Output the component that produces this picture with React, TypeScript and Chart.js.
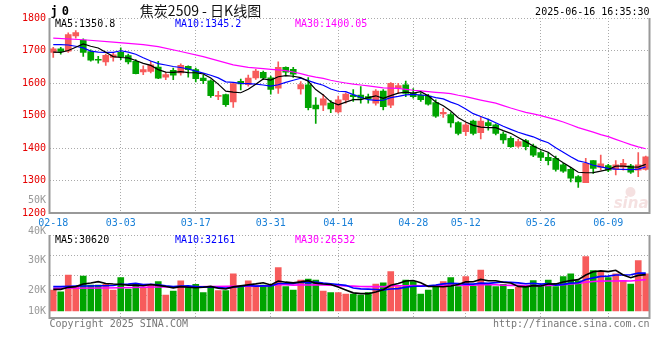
import React, { useEffect, useRef } from 'react';
import { Chart, registerables } from 'chart.js';
Chart.register(...registerables);

// ---------- data ----------
const dates = [
  '02-18','02-19','02-20','02-21','02-24','02-25','02-26','02-27','02-28',
  '03-03','03-04','03-05','03-06','03-07','03-10','03-11','03-12','03-13','03-14',
  '03-17','03-18','03-19','03-20','03-21','03-24','03-25','03-26','03-27','03-28','03-31',
  '04-01','04-02','04-03','04-07','04-08','04-09','04-10','04-11','04-14','04-15','04-16','04-17','04-18',
  '04-21','04-22','04-23','04-24','04-25','04-28','04-29','04-30',
  '05-06','05-07','05-08','05-09','05-12','05-13','05-14','05-15','05-16',
  '05-19','05-20','05-21','05-22','05-23','05-26','05-27','05-28','05-29','05-30',
  '06-03','06-04','06-05','06-06','06-09','06-10','06-11','06-12','06-13','06-16',
];
const tickDates = ['02-18','03-03','03-17','03-31','04-14','04-28','05-12','05-26','06-09'];

const openP = [
  1694,1705,1698,1745,1732,1697,1671,1665,1679,1694,
  1684,1667,1634,1636,1649,1618,1639,1631,1651,1641,
  1615,1607,1559,1564,1542,1605,1595,1616,1633,1616,
  1584,1648,1642,1582,1594,1532,1532,1538,1511,1548,
  1563,1563,1558,1538,1575,1532,1586,1594,1568,1563,
  1560,1540,1505,1503,1478,1450,1483,1447,1478,1471,
  1443,1430,1406,1423,1406,1386,1371,1368,1348,1334,
  1312,1293,1361,1340,1346,1334,1341,1345,1332,1334,
];
const highP = [
  1710,1710,1754,1761,1736,1702,1682,1689,1694,1708,
  1689,1672,1653,1667,1667,1633,1646,1659,1653,1646,
  1624,1610,1574,1566,1600,1612,1624,1642,1637,1621,
  1665,1650,1648,1604,1617,1555,1565,1546,1560,1570,
  1580,1589,1566,1580,1580,1601,1599,1606,1583,1570,
  1565,1548,1522,1509,1481,1478,1486,1496,1489,1474,
  1450,1435,1427,1427,1412,1391,1386,1375,1353,1340,
  1315,1368,1361,1378,1350,1361,1365,1350,1386,1375,
];
const lowP = [
  1679,1689,1694,1738,1682,1667,1661,1654,1667,1672,
  1659,1628,1626,1631,1613,1610,1610,1624,1618,1603,
  1598,1556,1549,1528,1525,1579,1590,1611,1611,1566,
  1568,1622,1617,1566,1517,1476,1515,1509,1507,1538,
  1543,1538,1538,1532,1517,1524,1568,1558,1553,1543,
  1532,1494,1494,1464,1440,1438,1440,1428,1455,1440,
  1414,1402,1402,1394,1373,1361,1348,1329,1325,1296,
  1279,1293,1322,1332,1327,1317,1332,1322,1312,1332,
];
const closeP = [
  1705,1697,1749,1755,1694,1670,1670,1685,1687,1680,
  1665,1629,1641,1656,1615,1626,1624,1654,1641,1613,
  1607,1561,1561,1533,1598,1597,1615,1637,1616,1580,
  1648,1633,1627,1595,1524,1520,1551,1520,1548,1566,
  1558,1553,1551,1575,1527,1599,1592,1568,1558,1549,
  1535,1498,1510,1477,1445,1471,1445,1483,1469,1445,
  1425,1404,1420,1404,1378,1371,1361,1334,1329,1307,
  1296,1353,1337,1351,1332,1348,1353,1326,1348,1373,
];
const volume = [
  17700,16300,30400,20000,29600,22000,22000,22500,17700,28200,
  18600,22500,20000,22500,24800,13500,16900,25400,20000,22500,
  15500,20600,17200,17200,31300,20000,25400,20600,22000,22000,
  36600,20600,17700,26200,27000,26200,16900,15500,15500,14400,
  14400,13500,15500,22800,23900,33200,20600,26200,24800,14400,
  17700,20600,24800,28200,20600,29000,21100,34600,22500,20600,
  22500,18300,20000,20600,25600,21400,26200,20600,29000,31300,
  25400,45900,34100,32700,28200,31300,25600,22800,42500,31300,
];

// moving-average values before enough bars exist
const priceMa5Head = [1695, 1694, 1700, 1710];
const priceMa10Head = [1718, 1718, 1717, 1713, 1708, 1698, 1695, 1694, 1694];
const priceMa30Head = [1738,null,null,null,1733,null,null,null,1726,null,null,null,1718,null,1712,null,null,1697,null,null,1681,null,null,null,1656,null,1648,null,1644];
const volMa5Head = [18300, 18300, 20000, 20600];
const volMa10Head = [20600, 20600, 20800, 21000, 21100, 21100, 21400, 21400, 21600];
const volMa30Head = [19200,null,null,null,null,null,null,19500,null,null,null,null,null,null,20300,null,null,null,null,null,null,20600,null,null,null,null,null,null,21200];

const priceLegend = ['MA5:1350.8', 'MA10:1345.2', 'MA30:1400.05'];
const volLegend = ['MA5:30620', 'MA10:32161', 'MA30:26532'];
const volAxisLabels = ['50K', '40K', '30K', '20K', '10K'];
const titleText = '焦炭2509 - 日K线图';
const codeText = 'j0';
const timeText = '2025-06-16 16:35:30';
const copyrightText = 'Copyright 2025 SINA.COM';
const urlText = 'http://finance.sina.com.cn';

// ---------- helpers ----------
function movingAvg(values: number[], period: number, head: (number | null)[]) {
  return values.map((_, i) => {
    if (i < period - 1) return head[i] ?? null;
    let s = 0;
    for (let k = i - period + 1; k <= i; k++) s += values[k];
    return s / period;
  });
}

const RED = '#f75b5b';
const GREEN = '#00a400';
const GRID = '#aaaaaa';
const FRAME = '#999999';
const MONO = '"DejaVu Sans Mono", "Liberation Mono", monospace';

const isUp = closeP.map((c, i) => c >= openP[i]);
const candleColors = isUp.map((u) => (u ? RED : GREEN));

const xGrid = {
  offset: false,
  drawTicks: false,
  lineWidth: 1,
  color: (ctx: any) => {
    const i = ctx.index;
    return i > 0 && tickDates.includes(dates[i]) ? GRID : 'rgba(0,0,0,0)';
  },
};

const framePlugin = {
  id: 'frame',
  afterDraw(chart: any) {
    const { ctx, chartArea: a } = chart;
    ctx.save();
    ctx.strokeStyle = FRAME;
    ctx.lineWidth = 2;
    ctx.beginPath();
    ctx.moveTo(a.left, a.top);
    ctx.lineTo(a.left, a.bottom);
    ctx.lineTo(a.right, a.bottom);
    ctx.lineTo(a.right, a.top);
    ctx.stroke();
    ctx.restore();
  },
};

function drawLegend(ctx: CanvasRenderingContext2D, a: any, texts: string[], y: number) {
  const colors = ['#000000', '#0000ff', '#ff00ff'];
  const xs = [a.left + 5.5, a.left + 125.5, a.left + 245.5];
  ctx.font = `10px ${MONO}`;
  ctx.textAlign = 'left';
  ctx.textBaseline = 'alphabetic';
  texts.forEach((t, i) => {
    ctx.fillStyle = colors[i];
    ctx.fillText(t, xs[i], y);
  });
}

const mainTextPlugin = {
  id: 'mainText',
  beforeDatasetsDraw(chart: any) {
    const { ctx, chartArea: a } = chart;
    ctx.save();
    // sina watermark
    ctx.fillStyle = 'rgba(225,170,170,0.35)';
    ctx.font = 'italic bold 15px "DejaVu Sans", sans-serif';
    ctx.textAlign = 'right';
    ctx.fillText('sina', a.right - 1, a.bottom - 5);
    ctx.beginPath();
    ctx.arc(a.right - 19, a.bottom - 21, 5, 0, Math.PI * 2);
    ctx.fill();
    ctx.restore();
  },
  afterDraw(chart: any) {
    const { ctx, chartArea: a } = chart;
    ctx.save();
    ctx.textBaseline = 'alphabetic';
    // code
    ctx.fillStyle = '#000';
    ctx.font = `bold 12px ${MONO}`;
    (ctx as any).letterSpacing = '4px';
    ctx.textAlign = 'left';
    ctx.fillText(codeText, a.left + 1, 15);
    (ctx as any).letterSpacing = '0px';
    // title
    ctx.font = '14px "Noto Sans CJK SC", sans-serif';
    ctx.textAlign = 'center';
    ctx.fillStyle = '#111';
    ctx.fillText(titleText, 200.5, 15.5);
    // time
    ctx.font = `10px ${MONO}`;
    ctx.textAlign = 'right';
    ctx.fillStyle = '#000';
    ctx.fillText(timeText, a.right, 15);
    drawLegend(ctx, a, priceLegend, a.top + 8.5);
    ctx.restore();
  },
};

const volTextPlugin = {
  id: 'volText',
  afterDraw(chart: any) {
    const { ctx, chartArea: a } = chart;
    ctx.save();
    drawLegend(ctx, a, volLegend, a.top + 7.5);
    // gray volume labels
    ctx.font = `10px ${MONO}`;
    ctx.fillStyle = '#999';
    ctx.textAlign = 'right';
    ctx.textBaseline = 'middle';
    const ys = [200, 231, 260.5, 290.5, 311];
    volAxisLabels.forEach((t, i) => ctx.fillText(t, a.left - 3.5, ys[i]));
    // footer
    ctx.textBaseline = 'alphabetic';
    ctx.fillStyle = '#777';
    ctx.textAlign = 'left';
    ctx.fillText(copyrightText, a.left, a.bottom + 9);
    ctx.textAlign = 'right';
    ctx.fillText(urlText, a.right, a.bottom + 9);
    ctx.restore();
  },
};

export default function App() {
  const mainRef = useRef<HTMLCanvasElement>(null);
  const volRef = useRef<HTMLCanvasElement>(null);

  useEffect(() => {
    document.body.style.margin = '0';
    const ma5 = movingAvg(closeP, 5, priceMa5Head);
    const ma10 = movingAvg(closeP, 10, priceMa10Head);
    const ma30 = movingAvg(closeP, 30, priceMa30Head);
    const bodies = openP.map((o, i) => [Math.min(o, closeP[i]), Math.max(o, closeP[i])]);
    const wicks = lowP.map((l, i) => [l, highP[i]]);

    const lineDs = (data: any[], color: string, width: number) => ({
      type: 'line' as const,
      data,
      borderColor: color,
      borderWidth: width,
      pointRadius: 0,
      tension: 0,
      spanGaps: true,
      order: 0,
    });

    const main = new Chart(mainRef.current!, {
      type: 'bar',
      data: {
        labels: dates,
        datasets: [
          lineDs(ma5, '#000000', 1.2),
          lineDs(ma10, '#0000ff', 1.2),
          lineDs(ma30, '#ff00ff', 1.2),
          {
            type: 'bar',
            data: bodies as any,
            backgroundColor: candleColors,
            barThickness: 6,
            grouped: false,
            minBarLength: 1,
            borderWidth: 0,
            order: 1,
          },
          {
            type: 'bar',
            data: wicks as any,
            backgroundColor: candleColors,
            barThickness: 1,
            grouped: false,
            borderWidth: 0,
            order: 2,
          },
        ] as any,
      },
      options: {
        animation: false,
        responsive: false,
        events: [],
        layout: { padding: { left: 0, right: 10.5, top: 18, bottom: 127 } },
        plugins: { legend: { display: false }, tooltip: { enabled: false } },
        scales: {
          x: {
            type: 'category',
            offset: true,
            grid: xGrid as any,
            border: { display: false, dash: [1, 2] },
            ticks: {
              autoSkip: false,
              maxRotation: 0,
              minRotation: 0,
              padding: 4,
              color: '#1a80d8',
              font: { family: MONO, size: 10 },
              callback: (_v: any, i: number) => (tickDates.includes(dates[i]) ? dates[i] : ''),
            },
            afterFit: (s: any) => { s.height = 20; },
          },
          y: {
            min: 1200,
            max: 1800,
            grid: { color: GRID, drawTicks: false },
            border: { display: false, dash: [1, 2] },
            ticks: {
              stepSize: 100,
              padding: 3.5,
              color: '#e60000',
              font: { family: MONO, size: 10 },
              callback: (v: any) => String(v),
            },
            afterFit: (s: any) => { s.width = 49.5; },
          },
        },
      },
      plugins: [framePlugin, mainTextPlugin],
    });

    const volMa5 = movingAvg(volume, 5, volMa5Head);
    const volMa10 = movingAvg(volume, 10, volMa10Head);
    const volMa30 = movingAvg(volume, 30, volMa30Head);

    const vol = new Chart(volRef.current!, {
      type: 'bar',
      data: {
        labels: dates,
        datasets: [
          lineDs(volMa5, '#000000', 1.6),
          lineDs(volMa10, '#0000ff', 1.6),
          lineDs(volMa30, '#ff00ff', 1.6),
          {
            type: 'bar',
            data: volume,
            backgroundColor: candleColors,
            barThickness: 6,
            borderWidth: 0,
            order: 1,
          },
        ] as any,
      },
      options: {
        animation: false,
        responsive: false,
        events: [],
        layout: { padding: { left: 0, right: 10.5, top: 235, bottom: 42 } },
        plugins: { legend: { display: false }, tooltip: { enabled: false } },
        scales: {
          x: {
            type: 'category',
            offset: true,
            grid: xGrid as any,
            border: { display: false, dash: [1, 2] },
            ticks: { display: false, autoSkip: false },
            afterFit: (s: any) => { s.height = 0; },
          },
          y: {
            min: -5900,
            max: 64200,
            grid: { display: false },
            border: { display: false },
            ticks: { display: false },
            afterFit: (s: any) => { s.width = 49.5; },
          },
          yg: {
            position: 'left',
            min: -0.13,
            max: 4.04,
            grid: {
              drawTicks: false,
              color: (ctx: any) => (ctx.tick && ctx.tick.value >= 1 ? GRID : 'rgba(0,0,0,0)'),
            },
            border: { display: false, dash: [1, 2] },
            ticks: { display: false, stepSize: 1 },
            afterFit: (s: any) => { s.width = 0; },
          },
        },
      },
      plugins: [framePlugin, volTextPlugin],
    });

    return () => {
      main.destroy();
      vol.destroy();
    };
  }, []);

  const cs: React.CSSProperties = { position: 'absolute', left: 0, top: 0 };
  return (
    <div style={{ position: 'relative', width: 660, height: 360, background: '#fff' }}>
      <canvas ref={mainRef} width={660} height={360} style={cs} />
      <canvas ref={volRef} width={660} height={360} style={cs} />
    </div>
  );
}
